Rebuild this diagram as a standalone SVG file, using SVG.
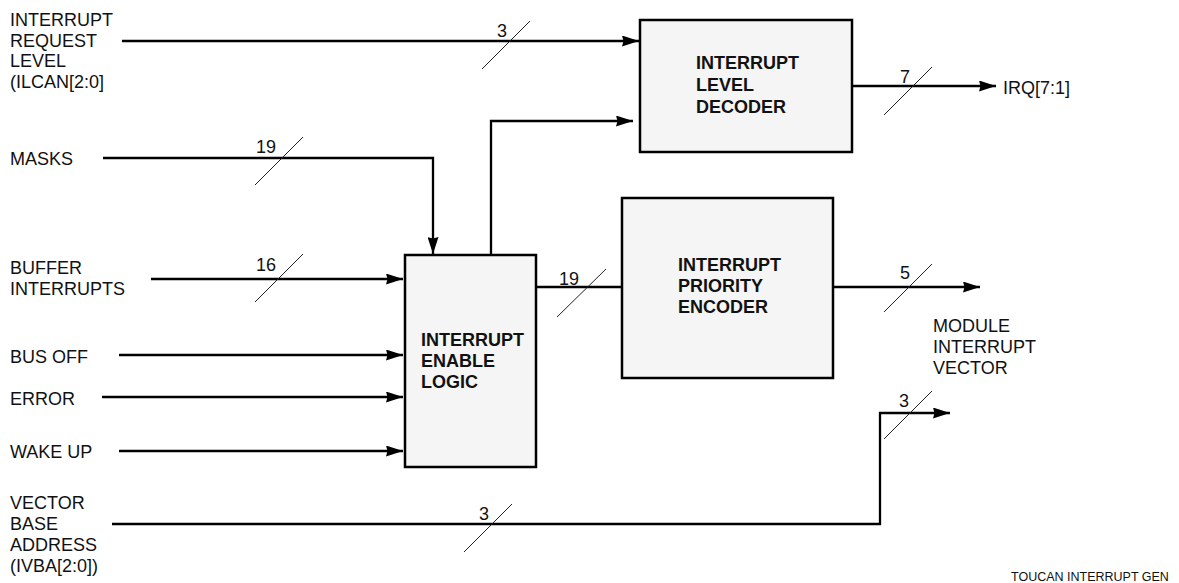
<svg xmlns="http://www.w3.org/2000/svg" width="1179" height="583" viewBox="0 0 1179 583">
  <defs>
    <marker id="arrow" viewBox="0 0 17 11" refX="17" refY="5.5" markerWidth="17" markerHeight="11" markerUnits="userSpaceOnUse" orient="auto">
      <path d="M0,0 L17,5.5 L0,11 L1.5,5.5 Z" fill="#000"/>
    </marker>
  </defs>
  <style>
    .lbl { font-family: "Liberation Sans", Arial, sans-serif; font-size: 18px; fill: #111; }
    .blk { font-family: "Liberation Sans", Arial, sans-serif; font-size: 18px; font-weight: bold; fill: #111; }
    .num { font-family: "Liberation Sans", Arial, sans-serif; font-size: 18px; fill: #111; }
    .foot { font-family: "Liberation Sans", Arial, sans-serif; font-size: 12.5px; fill: #111; }
    .box { fill: #f5f5f5; stroke: #000; stroke-width: 2.5; }
    .wire { fill: none; stroke: #000; stroke-width: 2.3; }
    .arr { marker-end: url(#arrow); }
    .bus { stroke: #222; stroke-width: 1; }
  </style>
  <rect width="1179" height="583" fill="#fff"/>

  <!-- signal labels on the left -->
  <g id="in-ilcan">
    <text class="lbl" x="10" y="26">INTERRUPT</text>
    <text class="lbl" x="10" y="47">REQUEST</text>
    <text class="lbl" x="10" y="67">LEVEL</text>
    <text class="lbl" x="10" y="88">(ILCAN[2:0]</text>
  </g>
  <g id="in-masks"><text class="lbl" x="10" y="165">MASKS</text></g>
  <g id="in-buffer">
    <text class="lbl" x="10" y="274">BUFFER</text>
    <text class="lbl" x="10" y="295">INTERRUPTS</text>
  </g>
  <g id="in-busoff"><text class="lbl" x="10" y="363">BUS OFF</text></g>
  <g id="in-error"><text class="lbl" x="10" y="405">ERROR</text></g>
  <g id="in-wakeup"><text class="lbl" x="10" y="458">WAKE UP</text></g>
  <g id="in-ivba">
    <text class="lbl" x="10" y="509">VECTOR</text>
    <text class="lbl" x="10" y="530">BASE</text>
    <text class="lbl" x="10" y="551">ADDRESS</text>
    <text class="lbl" x="10" y="572">(IVBA[2:0])</text>
  </g>

  <!-- blocks -->
  <g id="level-decoder">
    <rect class="box" x="640" y="20" width="212" height="132"/>
    <text class="blk" x="696" y="69">INTERRUPT</text>
    <text class="blk" x="696" y="91">LEVEL</text>
    <text class="blk" x="696" y="113">DECODER</text>
  </g>
  <g id="priority-encoder">
    <rect class="box" x="622" y="198" width="211" height="180"/>
    <text class="blk" x="678" y="271">INTERRUPT</text>
    <text class="blk" x="678" y="292">PRIORITY</text>
    <text class="blk" x="678" y="313">ENCODER</text>
  </g>
  <g id="enable-logic">
    <rect class="box" x="405" y="255" width="131" height="212"/>
    <text class="blk" x="421" y="346">INTERRUPT</text>
    <text class="blk" x="421" y="367">ENABLE</text>
    <text class="blk" x="421" y="388">LOGIC</text>
  </g>

  <!-- outputs -->
  <g id="out-irq"><text class="lbl" x="1003" y="94">IRQ[7:1]</text></g>
  <g id="out-vector">
    <text class="lbl" x="933" y="332">MODULE</text>
    <text class="lbl" x="933" y="353">INTERRUPT</text>
    <text class="lbl" x="933" y="374">VECTOR</text>
  </g>
  <text class="foot" x="1011" y="581">TOUCAN INTERRUPT GEN</text>

  <!-- connectors -->
  <g id="connectors">
    <path class="wire arr" d="M122,41 H639"/>
    <path class="wire arr" d="M103,158 H433 V254"/>
    <path class="wire arr" d="M151,279 H403"/>
    <path class="wire arr" d="M119,355 H403"/>
    <path class="wire arr" d="M102,397 H403"/>
    <path class="wire arr" d="M119,451 H403"/>
    <path class="wire arr" d="M491,255 V121 H633"/>
    <path class="wire" d="M536,287 H622"/>
    <path class="wire arr" d="M852,86 H996"/>
    <path class="wire arr" d="M833,287 H980"/>
    <path class="wire arr" d="M112,524 H880 V413 H950"/>

    <!-- bus width ticks -->
    <line class="bus" x1="482" y1="69" x2="530" y2="21"/>
    <text class="num" x="497" y="37">3</text>
    <line class="bus" x1="255" y1="185" x2="303" y2="137"/>
    <text class="num" x="256" y="153">19</text>
    <line class="bus" x1="255" y1="302" x2="303" y2="254"/>
    <text class="num" x="256" y="271">16</text>
    <line class="bus" x1="557" y1="317" x2="606" y2="269"/>
    <text class="num" x="559" y="285">19</text>
    <line class="bus" x1="884" y1="115" x2="932" y2="67"/>
    <text class="num" x="900" y="83">7</text>
    <line class="bus" x1="884" y1="312" x2="932" y2="264"/>
    <text class="num" x="900" y="279">5</text>
    <line class="bus" x1="884" y1="439" x2="932" y2="391"/>
    <text class="num" x="899" y="407">3</text>
    <line class="bus" x1="464" y1="552" x2="512" y2="504"/>
    <text class="num" x="479" y="520">3</text>
  </g>
</svg>
